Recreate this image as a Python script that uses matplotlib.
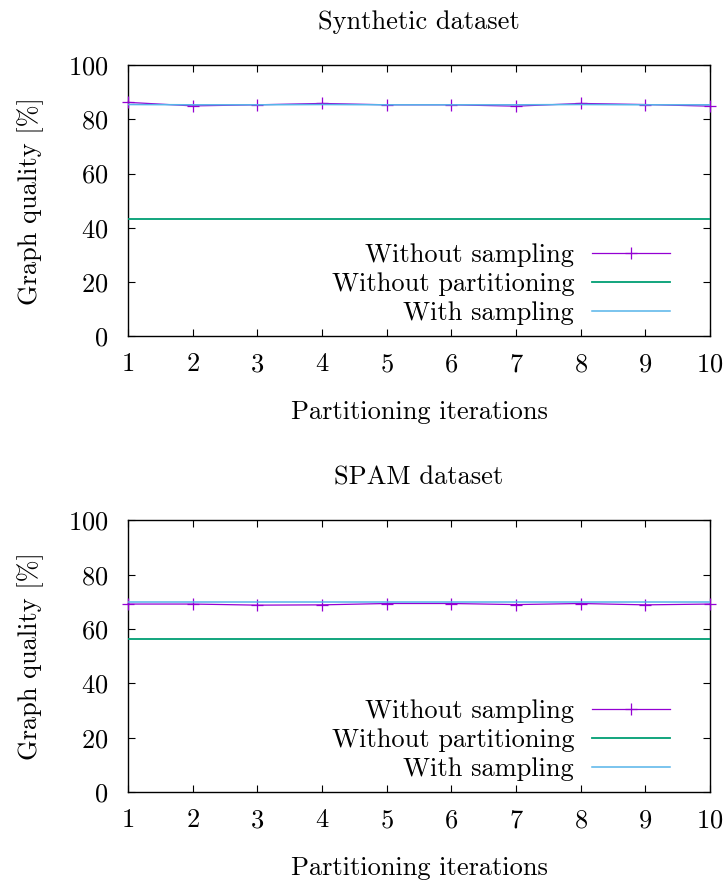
import matplotlib
matplotlib.use("Agg")
import matplotlib.pyplot as plt

plt.rcParams['font.family'] = ['cmr10', 'DejaVu Serif']
plt.rcParams['mathtext.fontset'] = 'cm'
plt.rcParams['axes.formatter.use_mathtext'] = True
plt.rcParams['font.size'] = 19
plt.rcParams['axes.titlesize'] = 19

iterations = [1, 2, 3, 4, 5, 6, 7, 8, 9, 10]

# Synthetic dataset
syn_without_sampling = [86.3, 85.0, 85.4, 85.9, 85.4, 85.4, 84.9, 85.9, 85.5, 84.9]
syn_without_partitioning = [43.1] * 10
syn_with_sampling = [85.5, 85.4, 85.4, 85.5, 85.4, 85.4, 85.4, 85.5, 85.4, 85.4]

# SPAM dataset
spam_without_sampling = [69.2, 69.2, 68.8, 68.9, 69.4, 69.4, 69.0, 69.4, 68.9, 69.2]
spam_without_partitioning = [56.5] * 10
spam_with_sampling = [69.8, 69.8, 69.8, 69.8, 69.8, 69.8, 69.8, 69.8, 69.8, 69.8]

labels = ["Without sampling", "Without partitioning", "With sampling"]
titles = ["Synthetic dataset", "SPAM dataset"]
colors = ["#9400d3", "#009e73", "#56b4e9"]

fig = plt.figure(figsize=(7.23, 8.82), dpi=100)
ax_top = fig.add_axes([0.177, 0.619, 0.805, 0.307])
ax_bot = fig.add_axes([0.177, 0.102, 0.805, 0.308])

panels = [
    (ax_top, titles[0], syn_without_sampling, syn_without_partitioning, syn_with_sampling),
    (ax_bot, titles[1], spam_without_sampling, spam_without_partitioning, spam_with_sampling),
]

for ax, title, ws, wp, wsa in panels:
    ax.plot(iterations, ws, color=colors[0], lw=0.9, marker='+', ms=9, mew=0.9,
            clip_on=False, label=labels[0], zorder=3)
    ax.plot(iterations, wp, color=colors[1], lw=1.3, label=labels[1], zorder=3)
    ax.plot(iterations, wsa, color=colors[2], lw=1.1, label=labels[2], zorder=4)
    ax.set_xlim(1, 10)
    ax.set_ylim(0, 100)
    ax.set_xticks(iterations)
    ax.set_yticks([0, 20, 40, 60, 80, 100])
    ax.tick_params(direction='in', length=5, width=0.8, top=True, right=True)
    ax.tick_params(axis='y', pad=14)
    ax.tick_params(axis='x', pad=12)
    for s in ax.spines.values():
        s.set_linewidth(1.0)
    ax.set_title(title, pad=26)
    ax.set_xlabel("Partitioning iterations", labelpad=17)
    ax.set_ylabel("Graph quality [%]", labelpad=17)
    ax.legend(loc='lower right', bbox_to_anchor=(0.931, 0.04), frameon=False,
              markerfirst=False, handlelength=2.95, handletextpad=0.68,
              labelspacing=0.2, borderpad=0.0, borderaxespad=0.0)

fig.savefig("out.png", dpi=100)
